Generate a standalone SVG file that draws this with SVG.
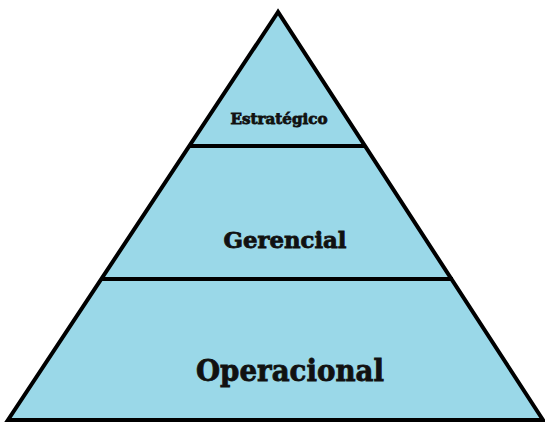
<svg xmlns="http://www.w3.org/2000/svg" width="545" height="422" viewBox="0 0 545 422">
<style>
.tier{fill:#9ad8e8;stroke:#000;stroke-width:4;stroke-linejoin:miter}
.lbl{font-family:"DejaVu Serif","Liberation Serif",serif;font-weight:bold;fill:#111;stroke:#111;stroke-width:0.8;text-anchor:middle}
</style>
<rect width="545" height="422" fill="#fff"/>
<g id="pyramid">
<polygon class="tier" points="278,12 8,420 543,420"/>
</g>
<g id="connectors">
<line x1="189" y1="146" x2="366" y2="146" stroke="#000" stroke-width="4"/>
<line x1="101" y1="279" x2="453" y2="279" stroke="#000" stroke-width="4"/>
</g>
<g id="estrategico"><text class="lbl" x="279" y="124" font-size="15" textLength="97" lengthAdjust="spacingAndGlyphs">Estratégico</text></g>
<g id="gerencial"><text class="lbl" x="285" y="248" font-size="22" textLength="123" lengthAdjust="spacingAndGlyphs">Gerencial</text></g>
<g id="operacional"><text class="lbl" x="290" y="381" font-size="29" textLength="188" lengthAdjust="spacingAndGlyphs">Operacional</text></g>
</svg>
